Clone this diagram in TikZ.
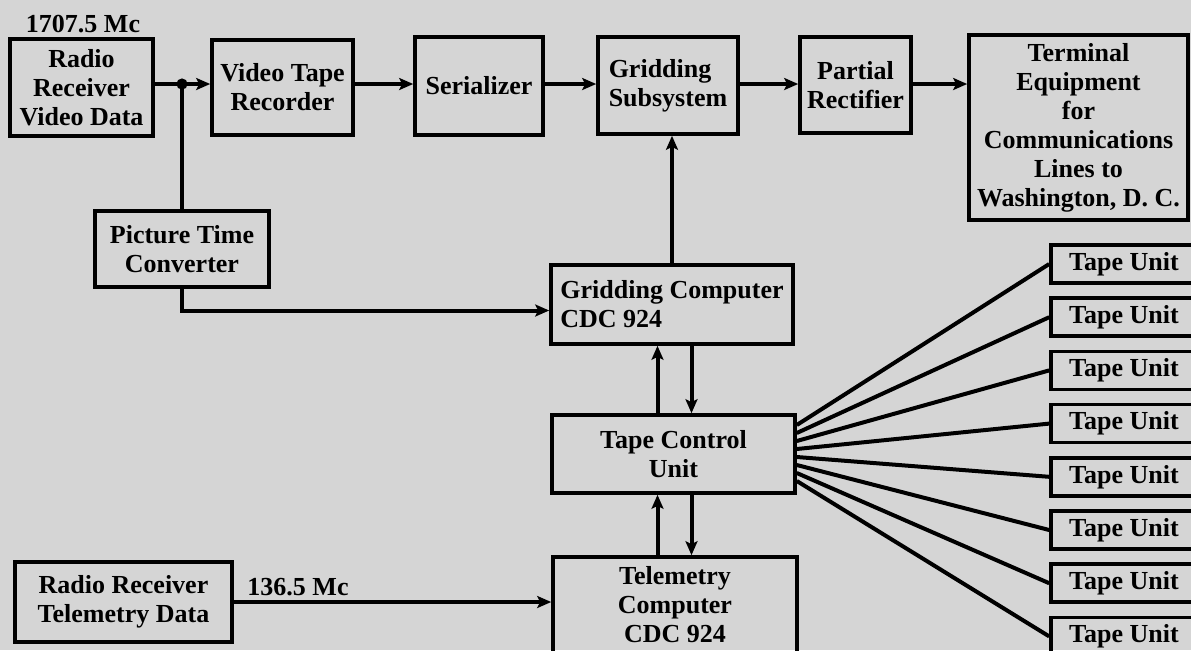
\documentclass[tikz,border=0pt]{standalone}
\usepackage{fontspec}
\setmainfont{Liberation Serif}
\usepackage{tikz}
\usetikzlibrary{arrows.meta}
\definecolor{paper}{RGB}{213,213,213}

\begin{document}
\begin{tikzpicture}[
    x=0.5pt, y=-0.5pt,
    block/.style={rectangle, draw, line width=1.8pt, inner sep=1pt, align=center, font=\fontsize{13}{14.5}\selectfont\bfseries},
    tape/.style={block, minimum width=73pt, minimum height=19pt},
    freq/.style={font=\fontsize{13}{14.5}\selectfont\bfseries},
    wire/.style={line width=2pt},
    arrow/.style={wire,-{Stealth[length=7pt,width=6pt,inset=1.5pt]}}
]
\useasboundingbox (0,0) rectangle (1191,650);
\fill[paper] (0,0) rectangle (1191,650);
\clip (0,0) rectangle (1191,650);

% top row
\node [block, minimum width=71.5pt, minimum height=48.5pt] (videorx) at (81.5,87.5) {Radio\\Receiver\\Video Data};
\node [freq] (videofreq) at (83,24) {1707.5 Mc};
\node [block, minimum width=70.5pt, minimum height=47.5pt] (vtr) at (282.5,87.5) {Video Tape\\Recorder};
\node [block, minimum width=64pt, minimum height=49pt] (serial) at (479,86) {Serializer};
\node [block, align=left, minimum width=70pt, minimum height=48.5pt] (gridsub) at (668,85.5) {Gridding\\Subsystem};
\node [block, minimum width=55.5pt, minimum height=48pt] (rectif) at (855.5,85) {Partial\\Rectifier};
\node [block, minimum width=109.5pt, minimum height=92.5pt] (terminal) at (1078.5,127.5) {Terminal\\Equipment\\for\\Communications\\Lines to\\Washington, D. C.};

% middle and bottom
\node [block, minimum width=87pt, minimum height=38pt] (ptc) at (182,249) {Picture Time\\Converter};
\node [block, align=left, minimum width=121pt, minimum height=39.5pt] (gridcomp) at (672,304.5) {Gridding Computer\\CDC 924};
\node [block, minimum width=121.5pt, minimum height=39pt] (tapectl) at (673.5,454) {Tape Control\\Unit};
\node [block, minimum width=122pt, minimum height=48pt] (telecomp) at (675,605) {Telemetry\\Computer\\CDC 924};
\node [block, minimum width=108.5pt, minimum height=40pt] (telerx) at (123.5,602) {Radio Receiver\\Telemetry Data};
\node [freq] (telefreq) at (298,587) {136.5 Mc};

\foreach \i in {1,...,8}
  \node [tape] (tape\i) at (1124,{264+53.2*(\i-1)}) {Tape Unit};

% connectors
\coordinate (jn) at (182,84);
\draw [wire] (videorx.east |- jn) -- (jn);
\draw [arrow] (jn) -- (vtr.west |- jn);
\fill (jn) circle (2.8pt);
\draw [wire] (jn) -- (ptc.north);
\draw [arrow] (ptc.south) |- ([yshift=-3pt]gridcomp.west);
\draw [arrow] (vtr.east |- jn) -- (serial.west |- jn);
\draw [arrow] (serial.east |- jn) -- (gridsub.west |- jn);
\draw [arrow] (gridsub.east |- jn) -- (rectif.west |- jn);
\draw [arrow] (rectif.east |- jn) -- (terminal.west |- jn);
\draw [arrow] (gridcomp.north) -- (gridcomp.north |- gridsub.south);
\draw [arrow] ([xshift=-8pt]tapectl.north) -- ([xshift=-8pt]tapectl.north |- gridcomp.south);
\draw [arrow] ([xshift=9pt]tapectl.north |- gridcomp.south) -- ([xshift=9pt]tapectl.north);
\draw [arrow] ([xshift=-8pt]tapectl.south |- telecomp.north) -- ([xshift=-8pt]tapectl.south);
\draw [arrow] ([xshift=9pt]tapectl.south) -- ([xshift=9pt]tapectl.south |- telecomp.north);
\draw [arrow] (telerx.east) -- (telerx.east -| telecomp.west);

\foreach \i in {1,...,8}
  \draw [wire] ([yshift={18.5pt-4pt*\i}]tapectl.east) -- (tape\i.west);

\end{tikzpicture}
\end{document}
